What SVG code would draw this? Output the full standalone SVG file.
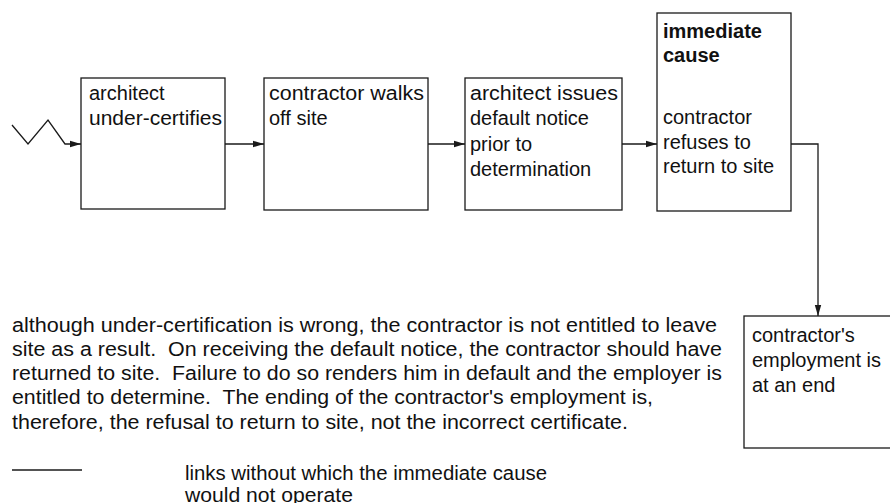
<svg xmlns="http://www.w3.org/2000/svg" width="890" height="503" viewBox="0 0 890 503">
<style>
  .box { fill: #ffffff; stroke: #1a1a1a; stroke-width: 1.3; }
  .t { font-family: "Liberation Sans", Arial, Helvetica, sans-serif; font-size: 20px; fill: #111111; white-space: pre; }
  .b { font-weight: bold; }
  .c { fill: none; stroke: #1a1a1a; stroke-width: 1.3; }
</style>
<defs>
  <marker id="ah" markerWidth="12" markerHeight="8" refX="11" refY="4" orient="auto" markerUnits="userSpaceOnUse">
    <path d="M0,0.8 L11,4 L0,7.2 Z" fill="#1a1a1a"/>
  </marker>
</defs>
<rect width="890" height="503" fill="#ffffff"/>

<g id="connectors">
  <polyline class="c" points="12,125 28,144 48,120 65,144 81,144" marker-end="url(#ah)"/>
  <line class="c" x1="225" y1="144" x2="264" y2="144" marker-end="url(#ah)"/>
  <line class="c" x1="428" y1="144" x2="465" y2="144" marker-end="url(#ah)"/>
  <line class="c" x1="622" y1="144" x2="657" y2="144" marker-end="url(#ah)"/>
  <polyline class="c" points="791,144 818,144 818,316" marker-end="url(#ah)"/>
</g>

<g id="node1">
  <rect class="box" x="81" y="78" width="144" height="131"/>
  <text class="t" x="89" y="100">architect</text>
  <text class="t" x="89" y="125" textLength="133" lengthAdjust="spacingAndGlyphs">under-certifies</text>
</g>

<g id="node2">
  <rect class="box" x="264" y="78" width="164" height="132"/>
  <text class="t" x="269" y="100" textLength="155" lengthAdjust="spacingAndGlyphs">contractor walks</text>
  <text class="t" x="269" y="125">off site</text>
</g>

<g id="node3">
  <rect class="box" x="465" y="78" width="157" height="132"/>
  <text class="t" x="470" y="100" textLength="148" lengthAdjust="spacingAndGlyphs">architect issues</text>
  <text class="t" x="470" y="125">default notice</text>
  <text class="t" x="470" y="151">prior to</text>
  <text class="t" x="470" y="176">determination</text>
</g>

<g id="node4">
  <rect class="box" x="657" y="13" width="134" height="198"/>
  <text class="t b" x="663" y="38">immediate</text>
  <text class="t b" x="663" y="62">cause</text>
  <text class="t" x="663" y="124">contractor</text>
  <text class="t" x="663" y="149">refuses to</text>
  <text class="t" x="663" y="173">return to site</text>
</g>

<g id="node5">
  <rect class="box" x="744" y="316" width="150" height="132"/>
  <text class="t" x="752" y="342">contractor's</text>
  <text class="t" x="752" y="367">employment is</text>
  <text class="t" x="752" y="392">at an end</text>
</g>

<g id="note">
  <text class="t" x="12" y="332" textLength="705" lengthAdjust="spacingAndGlyphs">although under-certification is wrong, the contractor is not entitled to leave</text>
  <text class="t" x="12" y="356" textLength="710" lengthAdjust="spacingAndGlyphs">site as a result.  On receiving the default notice, the contractor should have</text>
  <text class="t" x="12" y="380" textLength="710" lengthAdjust="spacingAndGlyphs">returned to site.  Failure to do so renders him in default and the employer is</text>
  <text class="t" x="12" y="404" textLength="641" lengthAdjust="spacingAndGlyphs">entitled to determine.  The ending of the contractor's employment is,</text>
  <text class="t" x="12" y="429" textLength="616" lengthAdjust="spacingAndGlyphs">therefore, the refusal to return to site, not the incorrect certificate.</text>
</g>

<g id="legend">
  <line class="c" x1="12" y1="470" x2="82" y2="470"/>
  <text class="t" x="185" y="480" textLength="362" lengthAdjust="spacingAndGlyphs">links without which the immediate cause</text>
  <text class="t" x="185" y="502" textLength="168" lengthAdjust="spacingAndGlyphs">would not operate</text>
</g>
</svg>
